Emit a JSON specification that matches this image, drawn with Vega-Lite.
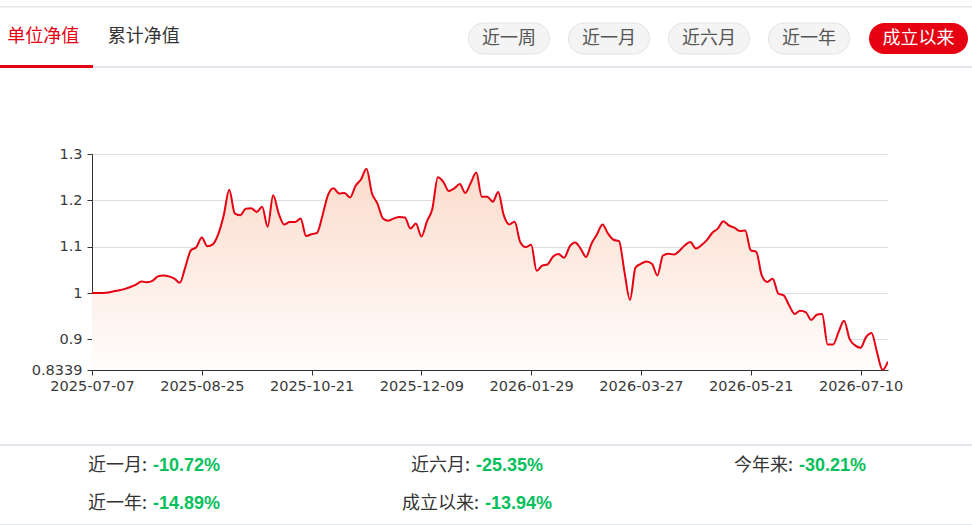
{
"$schema": "https://vega.github.io/schema/vega-lite/v6.json",
"background": "#ffffff",
"padding": 0,
"spacing": 0,
"config": {"view": {"stroke": null}, "font": "Noto Sans CJK SC"},
"datasets": {
"tabs": [{"tab": "单位净值", "active": true}, {"tab": "累计净值", "active": false}],
"buttons": [{"label": "近一周", "active": false}, {"label": "近一月", "active": false}, {"label": "近六月", "active": false}, {"label": "近一年", "active": false}, {"label": "成立以来", "active": true}],
"stats": [{"period": "近一月", "change": "-10.72%"}, {"period": "近六月", "change": "-25.35%"}, {"period": "今年来", "change": "-30.21%"}, {"period": "近一年", "change": "-14.89%"}, {"period": "成立以来", "change": "-13.94%"}],
"nav": [
{"date":"2025-07-07","nav":1.000},{"date":"2025-07-09","nav":1.000},{"date":"2025-07-11","nav":1.000},{"date":"2025-07-14","nav":1.001},{"date":"2025-07-16","nav":1.004},
{"date":"2025-07-18","nav":1.006},{"date":"2025-07-21","nav":1.009},{"date":"2025-07-23","nav":1.013},{"date":"2025-07-25","nav":1.018},{"date":"2025-07-28","nav":1.025},
{"date":"2025-07-30","nav":1.023},{"date":"2025-08-01","nav":1.026},{"date":"2025-08-04","nav":1.036},{"date":"2025-08-06","nav":1.038},{"date":"2025-08-08","nav":1.036},
{"date":"2025-08-11","nav":1.031},{"date":"2025-08-13","nav":1.022},{"date":"2025-08-15","nav":1.056},{"date":"2025-08-18","nav":1.092},{"date":"2025-08-20","nav":1.099},
{"date":"2025-08-25","nav":1.120},{"date":"2025-08-27","nav":1.101},{"date":"2025-08-29","nav":1.105},{"date":"2025-09-01","nav":1.127},{"date":"2025-09-03","nav":1.168},
{"date":"2025-09-05","nav":1.223},{"date":"2025-09-08","nav":1.172},{"date":"2025-09-10","nav":1.168},{"date":"2025-09-12","nav":1.182},{"date":"2025-09-15","nav":1.183},
{"date":"2025-09-17","nav":1.175},{"date":"2025-09-19","nav":1.186},{"date":"2025-09-22","nav":1.143},{"date":"2025-09-24","nav":1.211},{"date":"2025-09-26","nav":1.172},
{"date":"2025-09-29","nav":1.148},{"date":"2025-10-09","nav":1.153},{"date":"2025-10-13","nav":1.153},{"date":"2025-10-15","nav":1.161},{"date":"2025-10-17","nav":1.123},
{"date":"2025-10-21","nav":1.127},{"date":"2025-10-23","nav":1.130},{"date":"2025-10-27","nav":1.168},{"date":"2025-10-29","nav":1.212},{"date":"2025-10-31","nav":1.226},
{"date":"2025-11-03","nav":1.215},{"date":"2025-11-05","nav":1.216},{"date":"2025-11-07","nav":1.206},{"date":"2025-11-10","nav":1.231},{"date":"2025-11-12","nav":1.245},
{"date":"2025-11-14","nav":1.268},{"date":"2025-11-17","nav":1.215},{"date":"2025-11-19","nav":1.193},{"date":"2025-11-21","nav":1.161},{"date":"2025-11-24","nav":1.156},
{"date":"2025-11-26","nav":1.161},{"date":"2025-11-28","nav":1.164},{"date":"2025-12-01","nav":1.163},{"date":"2025-12-03","nav":1.139},{"date":"2025-12-05","nav":1.150},
{"date":"2025-12-09","nav":1.122},{"date":"2025-12-11","nav":1.154},{"date":"2025-12-15","nav":1.182},{"date":"2025-12-17","nav":1.250},{"date":"2025-12-19","nav":1.240},
{"date":"2025-12-22","nav":1.220},{"date":"2025-12-24","nav":1.226},{"date":"2025-12-26","nav":1.235},{"date":"2025-12-29","nav":1.216},{"date":"2025-12-31","nav":1.238},
{"date":"2026-01-05","nav":1.260},{"date":"2026-01-07","nav":1.208},{"date":"2026-01-09","nav":1.208},{"date":"2026-01-12","nav":1.197},{"date":"2026-01-14","nav":1.218},
{"date":"2026-01-16","nav":1.168},{"date":"2026-01-19","nav":1.148},{"date":"2026-01-21","nav":1.154},{"date":"2026-01-23","nav":1.110},{"date":"2026-01-27","nav":1.099},
{"date":"2026-01-29","nav":1.104},{"date":"2026-02-02","nav":1.048},{"date":"2026-02-04","nav":1.059},{"date":"2026-02-06","nav":1.062},{"date":"2026-02-09","nav":1.079},
{"date":"2026-02-11","nav":1.084},{"date":"2026-02-13","nav":1.076},{"date":"2026-02-24","nav":1.100},{"date":"2026-02-26","nav":1.109},{"date":"2026-03-02","nav":1.096},
{"date":"2026-03-04","nav":1.078},{"date":"2026-03-06","nav":1.107},{"date":"2026-03-09","nav":1.127},{"date":"2026-03-11","nav":1.148},{"date":"2026-03-13","nav":1.128},
{"date":"2026-03-16","nav":1.115},{"date":"2026-03-18","nav":1.112},{"date":"2026-03-20","nav":1.045},{"date":"2026-03-23","nav":0.985},{"date":"2026-03-25","nav":1.055},
{"date":"2026-03-27","nav":1.063},{"date":"2026-03-31","nav":1.068},{"date":"2026-04-02","nav":1.063},{"date":"2026-04-07","nav":1.038},{"date":"2026-04-09","nav":1.081},
{"date":"2026-04-13","nav":1.085},{"date":"2026-04-15","nav":1.083},{"date":"2026-04-17","nav":1.091},{"date":"2026-04-20","nav":1.103},{"date":"2026-04-22","nav":1.110},
{"date":"2026-04-24","nav":1.096},{"date":"2026-04-28","nav":1.103},{"date":"2026-04-30","nav":1.114},{"date":"2026-05-06","nav":1.130},{"date":"2026-05-08","nav":1.139},
{"date":"2026-05-11","nav":1.155},{"date":"2026-05-13","nav":1.146},{"date":"2026-05-15","nav":1.141},{"date":"2026-05-18","nav":1.134},{"date":"2026-05-19","nav":1.135},
{"date":"2026-05-21","nav":1.092},{"date":"2026-05-25","nav":1.089},{"date":"2026-05-27","nav":1.038},{"date":"2026-05-29","nav":1.024},{"date":"2026-06-01","nav":1.031},
{"date":"2026-06-03","nav":0.999},{"date":"2026-06-05","nav":0.995},{"date":"2026-06-09","nav":0.973},{"date":"2026-06-11","nav":0.955},{"date":"2026-06-15","nav":0.962},
{"date":"2026-06-17","nav":0.959},{"date":"2026-06-19","nav":0.942},{"date":"2026-06-23","nav":0.953},{"date":"2026-06-25","nav":0.955},{"date":"2026-06-29","nav":0.889},
{"date":"2026-07-01","nav":0.889},{"date":"2026-07-03","nav":0.916},{"date":"2026-07-06","nav":0.940},{"date":"2026-07-07","nav":0.901},{"date":"2026-07-08","nav":0.887},
{"date":"2026-07-10","nav":0.882},{"date":"2026-07-14","nav":0.905},{"date":"2026-07-16","nav":0.914},{"date":"2026-07-20","nav":0.872},{"date":"2026-07-22","nav":0.8339},
{"date":"2026-07-24","nav":0.852}
]
},
"vconcat": [
{"width": 972, "height": 6, "data": {"values": []}, "mark": "point", "encoding": {}},
{"width": 972, "height": 1.5, "view": {"fill": "#e8e8e8", "stroke": null}, "data": {"values": []}, "mark": "point", "encoding": {}},
{"hconcat": [
  {"width": 187, "height": 57, "data": {"name": "tabs"},
   "mark": {"type": "text", "fontSize": 18, "baseline": "middle"},
   "encoding": {
     "x": {"field": "tab", "type": "nominal", "scale": {"type": "point", "padding": 0.43, "domain": ["单位净值", "累计净值"]}, "axis": null},
     "text": {"field": "tab"},
     "color": {"condition": {"test": "datum.active", "value": "#e60012"}, "value": "#333333"}
   }},
  {"width": 272, "height": 57, "data": {"values": []}, "mark": "point", "encoding": {}},
  {"vconcat": [
    {"width": 509, "height": 13.5, "data": {"values": []}, "mark": "point", "encoding": {}},
    {"hconcat": [
      {"width": 400, "height": 31, "data": {"name": "buttons"},
       "transform": [{"filter": "!datum.active"}],
       "encoding": {"x": {"field": "label", "type": "nominal", "scale": {"type": "band", "paddingInner": 0.19, "paddingOuter": 0.095, "domain": ["近一周", "近一月", "近六月", "近一年"]}, "axis": null}},
       "layer": [
         {"mark": {"type": "rect", "cornerRadius": 15.5, "fill": "#f4f4f4", "stroke": "#e3e3e3", "strokeWidth": 1}},
         {"mark": {"type": "text", "fontSize": 18, "color": "#555555", "baseline": "middle"}, "encoding": {"text": {"field": "label"}}}
       ]},
      {"width": 10, "height": 31, "data": {"values": []}, "mark": "point", "encoding": {}},
      {"width": 99, "height": 31, "data": {"name": "buttons"},
       "transform": [{"filter": "datum.active"}],
       "encoding": {"x": {"field": "label", "type": "nominal", "scale": {"type": "band", "paddingInner": 0, "paddingOuter": 0}, "axis": null}},
       "layer": [
         {"mark": {"type": "rect", "cornerRadius": 15.5, "fill": "#e60012"}},
         {"mark": {"type": "text", "fontSize": 18, "color": "#ffffff", "baseline": "middle"}, "encoding": {"text": {"field": "label"}}}
       ]}
    ], "spacing": 0}
  ], "spacing": 0}
], "spacing": 0},
{"hconcat": [
  {"width": 93, "height": 3, "view": {"fill": "#e60012", "stroke": null}, "data": {"values": []}, "mark": "point", "encoding": {}},
  {"vconcat": [
    {"width": 879, "height": 1, "data": {"values": []}, "mark": "point", "encoding": {}},
    {"width": 879, "height": 2, "view": {"fill": "#e4e7ed", "stroke": null}, "data": {"values": []}, "mark": "point", "encoding": {}}
  ], "spacing": 0}
], "spacing": 0},
{"width": 972, "height": 77.5, "data": {"values": []}, "mark": "point", "encoding": {}},
{"hconcat": [
  {"width": 92, "height": 216, "data": {"values": []}, "mark": "point", "encoding": {}},
  {"width": 796, "height": 216, "data": {"name": "nav"},
   "encoding": {
     "x": {"field": "date", "type": "ordinal", "scale": {"type": "point", "padding": 0},
       "axis": {"values": ["2025-07-07", "2025-08-25", "2025-10-21", "2025-12-09", "2026-01-29", "2026-03-27", "2026-05-21", "2026-07-10"],
         "title": null, "labelAngle": 0, "labelOverlap": false, "grid": false,
         "domainColor": "#333333", "tickColor": "#333333", "tickSize": 5,
         "labelColor": "#3a3a3a", "labelFont": "DejaVu Sans", "labelFontSize": 14.5, "labelPadding": 4}},
     "y": {"field": "nav", "type": "quantitative", "scale": {"domain": [0.8339, 1.3], "zero": false, "nice": false},
       "axis": {"values": [0.8339, 0.9, 1, 1.1, 1.2, 1.3], "format": ".5~g", "title": null, "labelOverlap": false,
         "grid": true, "gridColor": "#dddddd", "domainColor": "#333333", "tickColor": "#333333", "tickSize": 5,
         "labelColor": "#3a3a3a", "labelFont": "DejaVu Sans", "labelFontSize": 14.5, "labelPadding": 5}}
   },
   "layer": [
     {"mark": {"type": "area", "interpolate": "monotone", "clip": true,
       "fill": {"gradient": "linear", "x1": 0, "y1": 0, "x2": 0, "y2": 1,
         "stops": [{"offset": 0, "color": "#fbdccc"}, {"offset": 1, "color": "#fffdfc"}]}},
      "encoding": {"y2": {"datum": 0.8339}}},
     {"mark": {"type": "line", "interpolate": "monotone", "clip": true, "color": "#e60012", "strokeWidth": 2}}
   ]}
], "spacing": 0, "bounds": "flush"},
{"width": 972, "height": 50.7, "data": {"values": []}, "mark": "point", "encoding": {}},
{"width": 972, "height": 2, "view": {"fill": "#e4e7ed", "stroke": null}, "data": {"values": []}, "mark": "point", "encoding": {}},
{"width": 946, "height": 40, "data": {"name": "stats"},
 "transform": [{"filter": {"field": "period", "oneOf": ["近一月", "近六月", "今年来"]}}],
 "encoding": {"x": {"field": "period", "type": "nominal", "scale": {"type": "point", "padding": 0.4644, "domain": ["近一月", "近六月", "今年来"]}, "axis": null}},
 "layer": [
   {"mark": {"type": "text", "align": "right", "dx": -3, "fontSize": 18, "color": "#333333", "baseline": "middle", "text": {"expr": "datum.period + ':'"}}},
   {"mark": {"type": "text", "align": "left", "dx": 3, "fontSize": 18, "fontWeight": "bold", "font": "Liberation Sans", "color": "#06c05c", "baseline": "middle"}, "encoding": {"text": {"field": "change"}}}
 ]},
{"width": 632, "height": 35, "data": {"name": "stats"},
 "transform": [{"filter": {"field": "period", "oneOf": ["近一年", "成立以来"]}}],
 "encoding": {"x": {"field": "period", "type": "nominal", "scale": {"type": "point", "padding": 0.4522, "domain": ["近一年", "成立以来"]}, "axis": null}},
 "layer": [
   {"mark": {"type": "text", "align": "right", "dx": -3, "fontSize": 18, "color": "#333333", "baseline": "middle", "text": {"expr": "datum.period + ':'"}}},
   {"mark": {"type": "text", "align": "left", "dx": 3, "fontSize": 18, "fontWeight": "bold", "font": "Liberation Sans", "color": "#06c05c", "baseline": "middle"}, "encoding": {"text": {"field": "change"}}}
 ]},
{"width": 972, "height": 2.5, "data": {"values": []}, "mark": "point", "encoding": {}},
{"width": 972, "height": 2, "view": {"fill": "#e4e7ed", "stroke": null}, "data": {"values": []}, "mark": "point", "encoding": {}},
{"width": 972, "height": 1, "data": {"values": []}, "mark": "point", "encoding": {}}
]
}
